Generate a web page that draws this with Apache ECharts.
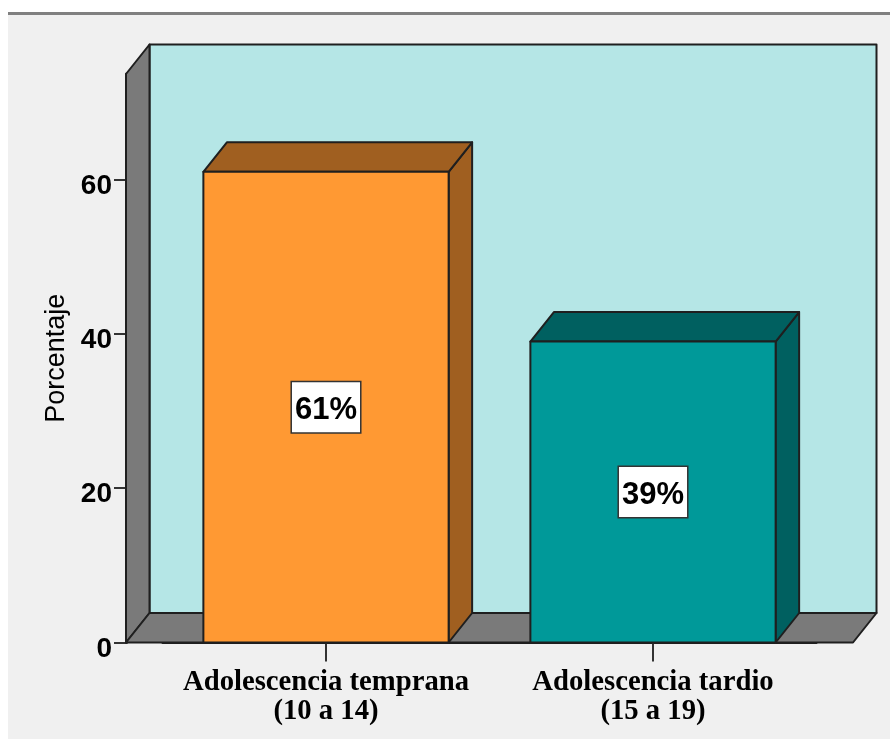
<!DOCTYPE html>
<html><head><meta charset="utf-8">
<style>html,body{margin:0;padding:0;background:#fff}#c{width:890px;height:740px}</style>
<script src="https://cdn.jsdelivr.net/npm/echarts@6/dist/echarts.min.js"></script>
</head><body><div id="c"></div>
<script>
const categories = ['Adolescencia temprana\n(10 a 14)', 'Adolescencia tardio\n(15 a 19)'];
const values = [61, 39];
const valueLabels = ['61%', '39%'];
const yTicks = [0, 20, 40, 60];
const yMax = 73.67;
const barColors = [['#ff9933', '#a05f20'], ['#009999', '#006060']];

const DX = 23.5, DY = -29.5, EDGE = '#1f1f1f', LW = 2;
const SIDE_PAD = 36.5;
const poly = (points, fill, z2) => ({
  type: 'polygon', z2: z2 || 0,
  shape: { points },
  style: { fill, stroke: EDGE, lineWidth: LW, lineJoin: 'round' }
});

function renderWalls(params, api) {
  const cs = params.coordSys;
  const l = cs.x - SIDE_PAD, r = cs.x + cs.width + SIDE_PAD;
  const b = api.coord([0, 0])[1], t = api.coord([0, yMax])[1];
  return { type: 'group', children: [
    poly([[l+DX,t+DY],[r+DX,t+DY],[r+DX,b+DY],[l+DX,b+DY]], '#b5e6e6'),
    poly([[l,t],[l+DX,t+DY],[l+DX,b+DY],[l,b]], '#7a7a7a'),
    poly([[l,b],[l+DX,b+DY],[r+DX,b+DY],[r,b]], '#7a7a7a')
  ]};
}
function renderBar(params, api) {
  const i = api.value(0), v = api.value(1);
  const c = api.coord([i, v]), b = api.coord([i, 0])[1];
  const hw = api.size([1, 0])[0] * 0.375;
  const l = c[0] - hw, r = c[0] + hw, t = c[1];
  const col = barColors[i];
  return { type: 'group', children: [
    poly([[r,t],[r+DX,t+DY],[r+DX,b+DY],[r,b]], col[1]),
    poly([[l,t],[l+DX,t+DY],[r+DX,t+DY],[r,t]], col[1]),
    poly([[l,t],[r,t],[r,b],[l,b]], col[0]),
    { type: 'text', z2: 10,
      x: c[0], y: (t + b) / 2 - 25,
      style: {
        text: valueLabels[i], align: 'center', verticalAlign: 'top',
        font: 'bold 31px "Liberation Sans",sans-serif',
        fill: '#000', backgroundColor: '#fff',
        borderColor: '#333', borderWidth: 1.5,
        padding: [13, 3, 6, 3]
      } }
  ]};
}

const chart = echarts.init(document.getElementById('c'), null, { renderer: 'canvas' });
chart.setOption({
  animation: false,
  backgroundColor: '#fff',
  graphic: [
    { type: 'rect', z: -10, shape: { x: 8, y: 14, width: 882, height: 725 }, style: { fill: '#f0f0f0' } },
    { type: 'rect', z: -10, shape: { x: 8, y: 12, width: 882, height: 3 }, style: { fill: '#808080' } }
  ],
  grid: { left: 162.5, width: 654, top: 74, height: 568.5 },
  xAxis: {
    type: 'category', data: categories, boundaryGap: true,
    axisLine: { show: true, lineStyle: { color: EDGE, width: 2 } },
    axisTick: { show: true, alignWithLabel: true, length: 19, lineStyle: { color: '#333', width: 2 } },
    axisLabel: { margin: 26, lineHeight: 29, color: '#000', fontFamily: 'Liberation Serif', fontWeight: 'bold', fontSize: 28.7, interval: 0 }
  },
  yAxis: {
    type: 'value', min: 0, max: yMax, offset: SIDE_PAD,
    name: 'Porcentaje', nameLocation: 'middle', nameGap: 56, nameRotate: 90,
    nameTextStyle: { color: '#000', fontFamily: 'Liberation Sans', fontSize: 27 },
    splitLine: { show: false },
    axisLine: { show: true, lineStyle: { color: EDGE, width: 3 } },
    axisTick: { show: true, length: 12, customValues: yTicks, lineStyle: { color: '#333', width: 2 } },
    axisLabel: { margin: 14, customValues: yTicks, color: '#000', fontFamily: 'Liberation Sans', fontWeight: 'bold', fontSize: 28, verticalAlign: 'top', lineHeight: 13 }
  },
  series: [
    { type: 'custom', clip: false, silent: true, z: 1, data: [[0, 0]], renderItem: renderWalls },
    { type: 'custom', clip: false, silent: true, z: 3, encode: { x: 0, y: 1 },
      data: values.map((v, i) => [i, v]), renderItem: renderBar }
  ]
});
</script></body></html>
